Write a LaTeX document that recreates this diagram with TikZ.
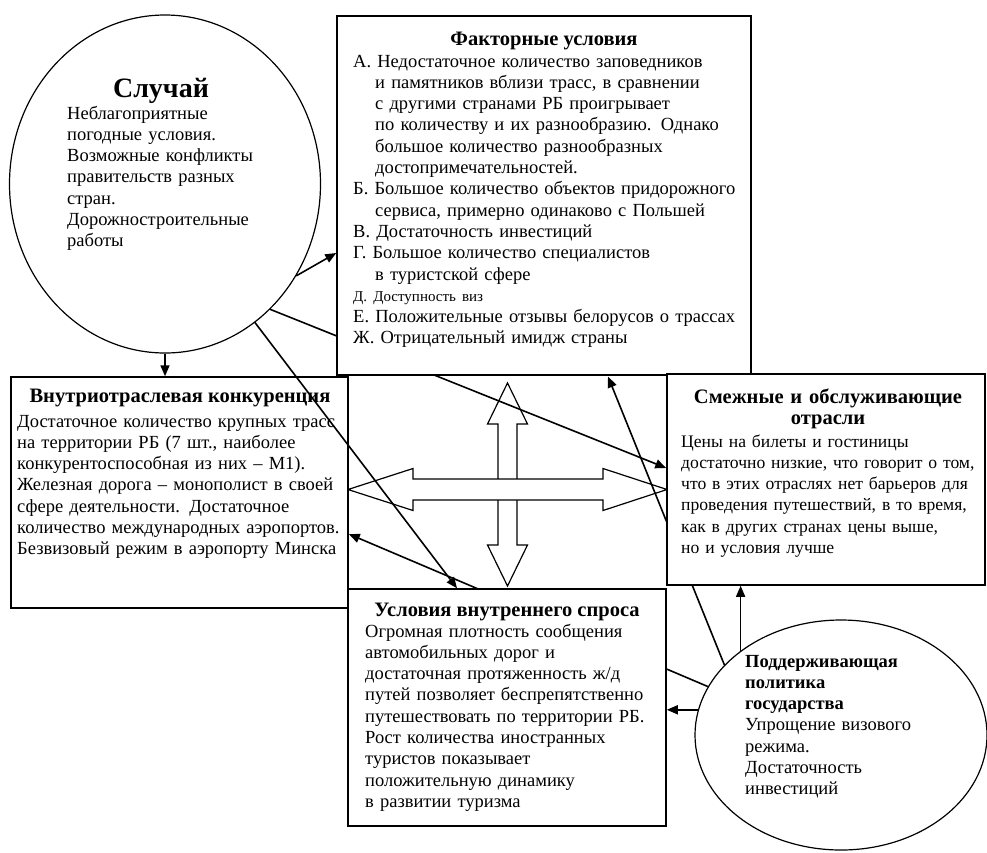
\documentclass[tikz,border=0pt]{standalone}
\usepackage{fontspec}
\setmainfont{Liberation Serif}
\usetikzlibrary{arrows.meta,shapes.geometric,backgrounds}
\newcommand{\diagfont}{\fontsize{18.5}{21.3}\selectfont}
\newcommand{\headfont}{\fontsize{20.5}{21.3}\selectfont\bfseries}
\newcommand{\vizfont}{\fontsize{15}{21.3}\selectfont}
\newcommand{\ind}{\hspace*{22pt}}
\tikzset{
  box/.style={draw, line width=1.5pt, fill=white, inner sep=0pt},
  oval/.style={draw, ellipse, line width=1.2pt, fill=white, inner sep=0pt},
  head/.style={font=\headfont, inner sep=0pt, anchor=base, align=center},
  body/.style={font=\diagfont, inner sep=0pt, anchor=base west, align=left},
  conn/.style={line width=1.6pt},
  arr/.style={conn, -{Triangle[length=11pt,width=9pt]}},
  fat/.style={line width=1.2pt, fill=white, line join=miter}
}
\begin{document}
\begin{tikzpicture}[x=1pt,y=-1pt]
\useasboundingbox (0,0) rectangle (987,852);
% boxes and ovals
\node [oval, minimum width=311pt, minimum height=338pt] (sluch) at (165,184) {};
\node [box, minimum width=414pt, minimum height=359pt] (fac) at (544,195.5) {};
\node [box, minimum width=337pt, minimum height=231pt] (konk) at (179.5,492.5) {};
\node [box, minimum width=318pt, minimum height=211pt] (smezh) at (826,479.5) {};
\node [box, minimum width=318pt, minimum height=237pt] (spros) at (507,707.5) {};
\node [oval, minimum width=292pt, minimum height=230pt] (polit) at (841,735) {};
\coordinate (facTip) at (608,376.5);
% texts
\node [head, font=\fontsize{28}{30}\selectfont\bfseries] (sluchH) at (161,97) {Случай};
\node [body, text width=240pt] (sluchT) at (67,119) {Неблагоприятные\\ погодные условия.\\ Возможные конфликты\\ правительств разных\\ стран.\\ Дорожностроительные\\ работы};
\node [head] (facH) at (544,45) {Факторные условия};
\node [body, text width=395pt] (facT) at (353,67) {%
А. Недостаточное количество заповедников\\ \ind и памятников вблизи трасс, в сравнении\\ \ind с другими странами РБ проигрывает\\ \ind по количеству и их разнообразию. Однако\\ \ind большое количество разнообразных\\ \ind достопримечательностей.\\
Б. Большое количество объектов придорожного\\ \ind сервиса, примерно одинаково с Польшей\\
В. Достаточность инвестиций\\
Г. Большое количество специалистов\\ \ind в туристской сфере\\
{\vizfont Д. Доступность виз}\\
Е. Положительные отзывы белорусов о трассах\\
Ж. Отрицательный имидж страны};
\node [head] (konkH) at (180,402) {Внутриотраслевая конкуренция};
\node [body, text width=335pt] (konkT) at (17,427) {Достаточное количество крупных трасс\\ на территории РБ (7 шт., наиболее\\ конкурентоспособная из них – М1).\\ Железная дорога – монополист в своей\\ сфере деятельности. Достаточное\\ количество международных аэропортов.\\ Безвизовый режим в аэропорту Минска};
\node [head, text width=314pt] (smezhH) at (828,403) {Смежные и обслуживающие\\ отрасли};
\node [body, font=\fontsize{17.6}{21.3}\selectfont, text width=330pt] (smezhT) at (681,447) {Цены на билеты и гостиницы\\ достаточно низкие, что говорит о том,\\ что в этих отраслях нет барьеров для\\ проведения путешествий, в то время,\\ как в других странах цены выше,\\ но и условия лучше};
\node [head] (sprosH) at (507,616) {Условия внутреннего спроса};
\node [body, text width=320pt] (sprosT) at (365,637) {Огромная плотность сообщения\\ автомобильных дорог и\\ достаточная протяженность ж/д\\ путей позволяет беспрепятственно\\ путешествовать по территории РБ.\\ Рост количества иностранных\\ туристов показывает\\ положительную динамику\\ в развитии туризма};
\node [body, text width=230pt] (politT) at (745,667) {\textbf{Поддерживающая}\\ \textbf{политика}\\ \textbf{государства}\\ Упрощение визового\\ режима.\\ Достаточность\\ инвестиций};
% lines that run under the boxes
\begin{pgfonlayer}{background}
\draw [fat] (507.5,383) --(527.5,424) --(517,424) --(517,545) --(527.5,545) --(507.5,586) --(487.5,545) --(498,545) --(498,424) --(487.5,424) --cycle;
\draw [fat] (348,489.5) --(413,468.5) --(413,479) --(603,479) --(603,468.5) --(667,489.5) --(603,510.5) --(603,500) --(413,500) --(413,510.5) --cycle;
\draw [arr] (sluch.-50) -- (smezh.west |- 0,468);
\draw [arr] (polit.149) -- (facTip);
\draw [arr] (polit.160.4) -- (konk.east |- 0,534);
\end{pgfonlayer}
% lines on top
\draw [arr] (sluch.-35.6) -- (fac.west |- 0,253);
\draw [arr] (sluch.-57) -- (457,0 |- spros.north);
\draw [arr] (sluch.south) -- (sluch.south |- konk.north);
\draw [arr] (polit.140.6) -- (polit.140.6 |- smezh.south);
\draw [arr] (polit.170.9) -- (polit.170.9 -| spros.east);
\end{tikzpicture}
\end{document}
